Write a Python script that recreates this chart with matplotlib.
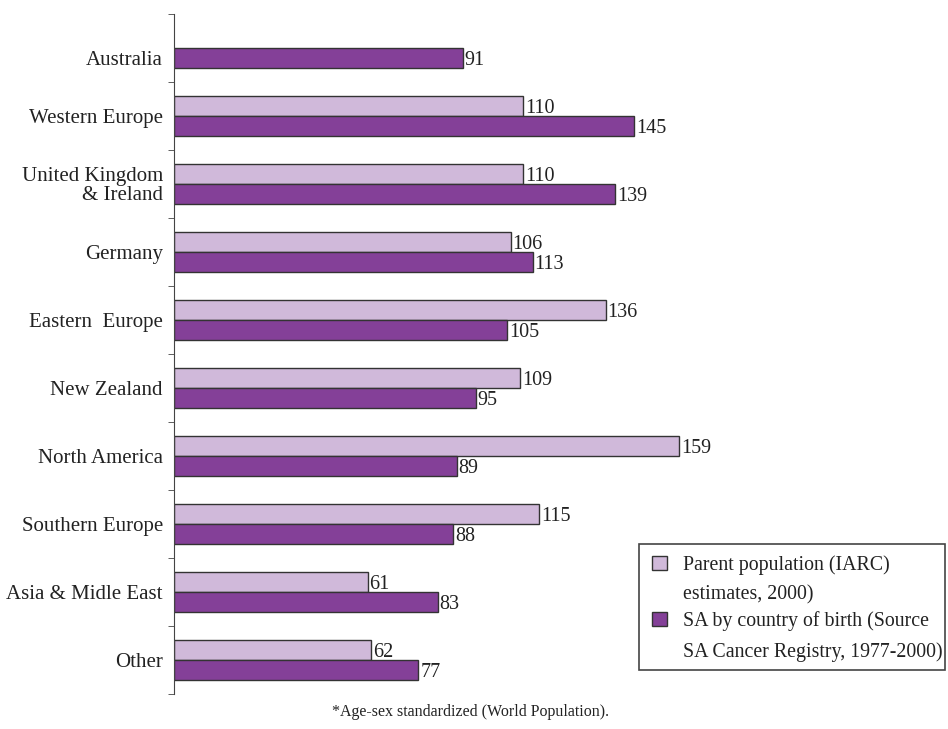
import matplotlib.pyplot as plt
from matplotlib.patches import Rectangle
from matplotlib.ticker import FixedLocator
import numpy as np

plt.rcParams['font.family'] = ['Liberation Serif', 'DejaVu Serif']

categories = ['Australia', 'Western Europe', 'United Kingdom\n& Ireland', 'Germany',
              'Eastern  Europe', 'New Zealand', 'North America', 'Southern Europe',
              'Asia & Midle East', 'Other']
parent_pop = [None, 110, 110, 106, 136, 109, 159, 115, 61, 62]
sa_birth = [91, 145, 139, 113, 105, 95, 89, 88, 83, 77]

parent_label = 'Parent population (IARC)\nestimates, 2000)'
sa_label = 'SA by country of birth (Source\nSA Cancer Registry, 1977-2000)'
footnote = '*Age-sex standardized (World Population).'

LIGHT = '#D0B9DA'
DARK = '#844098'
EDGE = '#333333'
TXT = '#222222'

W, H = 948, 729
fig = plt.figure(figsize=(W / 100, H / 100), dpi=100)
ax = fig.add_axes((174 / W, 1 - 694 / H, 762 / W, 680 / H))

y = np.arange(len(categories))
bh = 0.3

for i, (p, s) in enumerate(zip(parent_pop, sa_birth)):
    if p is not None:
        ax.barh(y[i] - bh / 2, p, height=bh, color=LIGHT, edgecolor=EDGE, linewidth=1)
        ax.text(p + 0.6, y[i] - bh / 2, str(p), va='center_baseline', ha='left',
                fontsize=14.5, color=TXT)
    ax.barh(y[i] + bh / 2, s, height=bh, color=DARK, edgecolor=EDGE, linewidth=1)
    ax.text(s + 0.6, y[i] + bh / 2, str(s), va='center_baseline', ha='left',
            fontsize=14.5, color=TXT)

ax.set_xlim(0, 240)
ax.set_ylim(len(categories) - 0.5, -0.5)

for side in ['top', 'right', 'bottom']:
    ax.spines[side].set_visible(False)
ax.spines['left'].set_color('#444444')
ax.set_xticks([])

# Australia has only one bar, its label sits level with it
label_pos = y.astype(float)
label_pos[0] += bh / 2
ax.set_yticks(label_pos)
ax.set_yticklabels(categories, fontsize=15, color=TXT)
for t in ax.get_yticklabels():
    t.set_linespacing(1.0)
ax.tick_params(axis='y', which='major', length=0, pad=8)
ax.yaxis.set_minor_locator(FixedLocator(np.arange(-0.5, len(categories) + 0.5, 1.0)))
ax.tick_params(axis='y', which='minor', length=4, color='#444444')


# legend box drawn by hand (pixel positions from the top-left)
def px(x, yy):
    return x / W, 1 - yy / H


fig.patches.append(Rectangle(px(639, 670), 306 / W, 126 / H, transform=fig.transFigure,
                             facecolor='white', edgecolor='#444444', linewidth=1.2))
for (ytop, col, lab) in [(556, LIGHT, parent_label), (612, DARK, sa_label)]:
    fig.patches.append(Rectangle(px(652, ytop + 14), 15 / W, 14 / H, transform=fig.transFigure,
                                 facecolor=col, edgecolor=EDGE, linewidth=1))
    fig.text(*px(683, ytop - 1), lab, ha='left', va='top', fontsize=14.3,
             color=TXT, linespacing=1.75)

fig.text(*px(470, 712), footnote, ha='center', va='center', fontsize=11.5, color=TXT)

fig.savefig('out.png', dpi=100)
